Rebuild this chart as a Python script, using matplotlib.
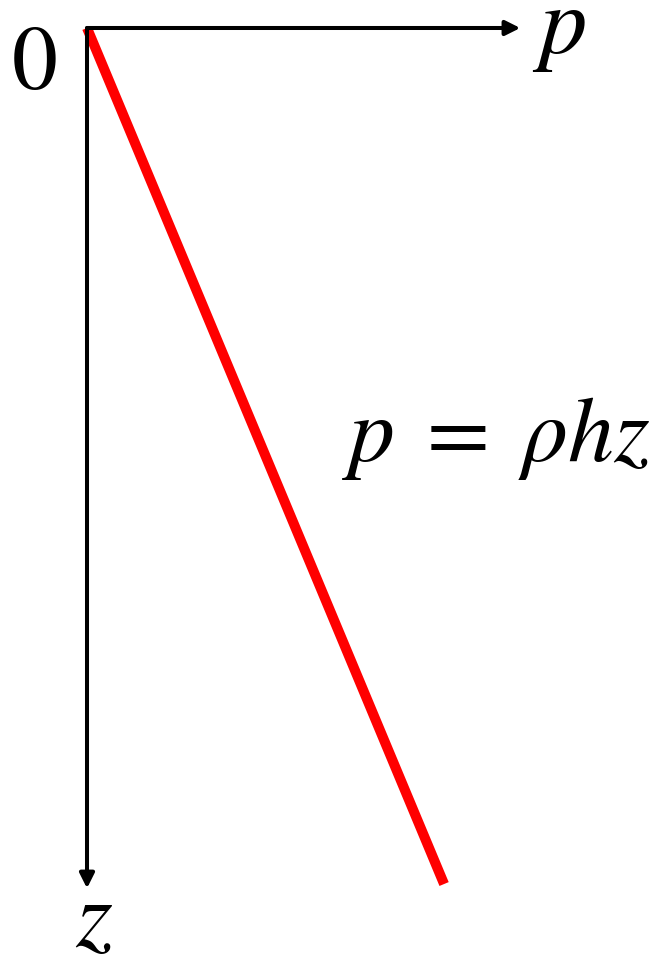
import numpy as np
import matplotlib
matplotlib.use("Agg")
import matplotlib.pyplot as plt

plt.rcParams['mathtext.fontset'] = 'stix'
plt.rcParams['font.family'] = ['STIXGeneral', 'DejaVu Serif']

RHO_H = 0.417            # slope of the pressure line (p per unit depth)
Z_VALUES = [0.0, 1.0]    # depth range of the line
P_AXIS_END = 0.506       # end of p axis arrow
Z_AXIS_END = 1.005       # end of z axis arrow

def main():
    fig = plt.figure(figsize=(6.71, 9.58), dpi=100)
    ax = fig.add_axes([0, 0, 1, 1])
    ax.set_xlim(-0.1016, 0.682)
    ax.set_ylim(1.0864, -0.0327)
    ax.axis('off')

    # axes arrows
    arrow_style = dict(arrowstyle='-|>', color='black', lw=2.9,
                       mutation_scale=22, shrinkA=0, shrinkB=0)
    ax.annotate('', xy=(P_AXIS_END, 0), xytext=(0, 0), arrowprops=arrow_style)
    ax.annotate('', xy=(0, Z_AXIS_END), xytext=(0, 0), arrowprops=arrow_style)

    # pressure line p = rho h z
    z = np.array(Z_VALUES)
    p = RHO_H * z
    ax.plot(p, z, color='#ff0000', lw=7.2, solid_capstyle='butt')

    # labels
    ax.text(-0.061, 0.047, '0', fontsize=66, ha='center', va='center',
            family='STIXGeneral')
    ax.text(P_AXIS_END + 0.045, 0.005, '$p$', fontsize=68, ha='center', va='center')
    ax.text(0.008, Z_AXIS_END + 0.042, '$z$', fontsize=68, ha='center', va='center')
    ax.text(0.477, 0.48, r'$p\;=\;\rho h z$', fontsize=66, ha='center', va='center')

    fig.savefig('out.png', dpi=100)

if __name__ == "__main__":
    main()
